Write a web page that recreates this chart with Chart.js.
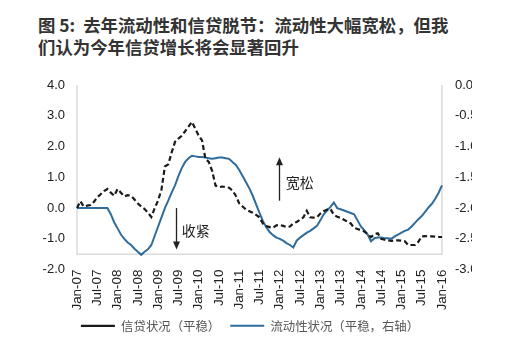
<!DOCTYPE html>
<html>
<head>
<meta charset="utf-8">
<script src="https://cdn.jsdelivr.net/npm/chart.js@4.4.1/dist/chart.umd.min.js"></script>
<style>
  body { margin: 0; background: #fff; width: 522px; height: 351px; overflow: hidden; position: relative; }
  #title {
    position: absolute; left: 38px; top: 14px;
    font: bold 17.4px/22px "Noto Sans CJK SC", sans-serif;
    color: #333; white-space: nowrap;
  }
  #clip { position: absolute; left: 0; top: 60px; width: 472px; height: 291px; overflow: hidden; }
</style>
</head>
<body>
<div id="title">图 5:&nbsp; 去年流动性和信贷脱节：流动性大幅宽松，但我<br>们认为今年信贷增长将会显著回升</div>
<div id="clip"><canvas id="chart" width="500" height="291"></canvas></div>
<script>
// monthly, Jan-07 .. Jan-16
const monthNames = ["Jan", "Feb", "Mar", "Apr", "May", "Jun", "Jul", "Aug", "Sep", "Oct", "Nov", "Dec"];
const years = ["07", "08", "09", "10", "11", "12", "13", "14", "15", "16"];
const months = [];
years.forEach((yy, i) => {
    monthNames.forEach((mn, j) => {
        if (i < years.length - 1 || j === 0) months.push(mn + "-" + yy);
    });
});

// 信贷状况（平稳） - left axis
const creditValues = [
    0.00, 0.22, 0.05, 0.08, 0.10, 0.20, 0.35, 0.45, 0.55, 0.62, 0.50, 0.40,
    0.62, 0.50, 0.38, 0.42, 0.40, 0.28, 0.15, 0.05, -0.03, -0.15, -0.29, 0.00,
    0.25, 0.60, 1.35, 1.42, 1.80, 2.15, 2.26, 2.35, 2.50, 2.65, 2.80, 2.58,
    2.35, 2.20, 1.60, 1.50, 1.20, 0.73, 0.68, 0.70, 0.68, 0.66, 0.57, 0.40,
    0.15, 0.05, -0.05, -0.10, -0.15, -0.22, -0.30, -0.50, -0.58, -0.62, -0.64, -0.56,
    -0.55, -0.58, -0.62, -0.60, -0.50, -0.45, -0.38, -0.30, -0.09, -0.30, -0.31, -0.30,
    -0.18, -0.10, -0.05, -0.03, -0.22, -0.28, -0.32, -0.38, -0.44, -0.50, -0.64, -0.68,
    -0.72, -0.76, -0.85, -0.94, -0.85, -0.82, -1.00, -1.03, -1.05, -1.07, -1.05, -1.05,
    -1.06, -1.08, -1.20, -1.20, -1.20, -1.10, -0.92, -0.91, -0.92, -0.92, -0.93, -0.94,
    -0.94
];

// 流动性状况（平稳，右轴） - right axis
const liquidityValues = [
    -2.00, -2.00, -2.00, -2.00, -2.00, -2.00, -2.00, -2.00, -2.00, -2.00, -2.10, -2.23,
    -2.33, -2.43, -2.50, -2.56, -2.60, -2.66, -2.71, -2.76, -2.71, -2.67, -2.60, -2.45,
    -2.30, -2.15, -2.00, -1.88, -1.75, -1.63, -1.48, -1.35, -1.25, -1.19, -1.15, -1.16,
    -1.17, -1.17, -1.18, -1.19, -1.20, -1.19, -1.18, -1.18, -1.19, -1.20, -1.25, -1.30,
    -1.38, -1.48, -1.58, -1.68, -1.80, -1.94, -2.08, -2.21, -2.31, -2.39, -2.44, -2.48,
    -2.50, -2.53, -2.57, -2.60, -2.64, -2.53, -2.48, -2.44, -2.40, -2.37, -2.33, -2.29,
    -2.20, -2.10, -2.04, -1.98, -1.91, -2.00, -2.02, -2.04, -2.06, -2.08, -2.10, -2.20,
    -2.30, -2.36, -2.43, -2.54, -2.49, -2.48, -2.48, -2.49, -2.49, -2.50, -2.46, -2.43,
    -2.40, -2.37, -2.35, -2.30, -2.24, -2.18, -2.13, -2.06, -1.99, -1.93, -1.85, -1.75,
    -1.63
];

const leftTicks = [-2, -1, 0, 1, 2, 3, 4];
const rightTicks = [-3, -2.5, -2, -1.5, -1, -0.5, 0];
const seriesNames = ["信贷状况（平稳）", "流动性状况（平稳，右轴）"];

const axisFont = { family: "'Liberation Sans', Arial, sans-serif", size: 13 };
const frameFloor = -1.5;   // the grey base line of the original sits here

// annotations in data units (month index, left-axis value)
const notes = [
    { text: "收紧", x: 29.3, from: 0.0, to: -1.35, tx: 31.0, ty: -0.74 },
    { text: "宽松", x: 59.7, from: 0.24, to: 1.65, tx: 61.8, ty: 0.83 }
];

const framePlugin = {
    id: "frame",
    beforeDatasetsDraw(chart) {
        const { ctx, chartArea, scales } = chart;
        const base = scales.y.getPixelForValue(frameFloor);
        ctx.save();
        ctx.strokeStyle = "#dcdcdc";
        ctx.lineWidth = 1.5;
        ctx.beginPath();
        ctx.moveTo(chartArea.left, chartArea.top);
        ctx.lineTo(chartArea.left, base);
        ctx.lineTo(chartArea.right, base);
        ctx.lineTo(chartArea.right, chartArea.top);
        ctx.stroke();
        ctx.restore();
    },
    afterDatasetsDraw(chart) {
        const { ctx, scales } = chart;
        ctx.save();
        ctx.strokeStyle = "#222";
        ctx.fillStyle = "#222";
        ctx.lineWidth = 1.3;
        notes.forEach(n => {
            const x = Math.round(scales.x.getPixelForValue(n.x)) + 0.5;
            const y0 = scales.y.getPixelForValue(n.from);
            const y1 = scales.y.getPixelForValue(n.to);
            const dir = y1 > y0 ? 1 : -1;
            ctx.beginPath();
            ctx.moveTo(x, y0);
            ctx.lineTo(x, y1 - dir * 7);
            ctx.stroke();
            ctx.beginPath();
            ctx.moveTo(x, y1);
            ctx.lineTo(x - 3.5, y1 - dir * 8);
            ctx.lineTo(x + 3.5, y1 - dir * 8);
            ctx.closePath();
            ctx.fill();
            ctx.font = "14px 'Noto Sans CJK SC', sans-serif";
            ctx.textBaseline = "middle";
            ctx.fillText(n.text, scales.x.getPixelForValue(n.tx), scales.y.getPixelForValue(n.ty));
        });
        ctx.restore();
    }
};

new Chart(document.getElementById("chart"), {
    type: "line",
    data: {
        labels: months,
        datasets: [
            {
                label: seriesNames[0],
                data: creditValues,
                yAxisID: "y",
                borderColor: "#1a1a1a",
                backgroundColor: "#1a1a1a",
                borderWidth: 2.2,
                borderDash: [5, 3],
                pointRadius: 0,
                tension: 0
            },
            {
                label: seriesNames[1],
                data: liquidityValues,
                yAxisID: "y1",
                borderColor: "#2f6c9c",
                backgroundColor: "#2f6c9c",
                borderWidth: 2,
                pointRadius: 0,
                tension: 0
            }
        ]
    },
    options: {
        responsive: false,
        animation: false,
        devicePixelRatio: 1,
        layout: { padding: { top: 25, bottom: 9, left: 0, right: 0 } },
        plugins: {
            legend: {
                position: "bottom",
                labels: {
                    usePointStyle: true,
                    pointStyle: "line",
                    pointStyleWidth: 34,
                    boxHeight: 6,
                    padding: 10,
                    color: "#555",
                    font: { family: "'Noto Sans CJK SC', sans-serif", size: 12.4 }
                }
            },
            tooltip: { enabled: false }
        },
        scales: {
            x: {
                type: "category",
                offset: false,
                grid: { display: false, drawTicks: false },
                border: { display: false },
                afterFit: (axis) => { axis.height = 40; },
                ticks: {
                    autoSkip: false,
                    minRotation: 90,
                    maxRotation: 90,
                    padding: 0,
                    color: "#222",
                    font: { family: axisFont.family, size: 13.4 },
                    callback: (v, i) => (i % 6 === 0 ? months[i] : null)
                }
            },
            y: {
                position: "left",
                min: leftTicks[0],
                max: leftTicks[leftTicks.length - 1],
                grid: { display: false, drawTicks: false },
                border: { display: false },
                afterFit: (axis) => { axis.width = 77; },
                afterBuildTicks: (axis) => { axis.ticks = leftTicks.map(v => ({ value: v })); },
                ticks: { padding: 12, color: "#222", font: axisFont, callback: v => v.toFixed(1) }
            },
            y1: {
                position: "right",
                min: rightTicks[0],
                max: rightTicks[rightTicks.length - 1],
                grid: { display: false, drawTicks: false },
                border: { display: false },
                afterFit: (axis) => { axis.width = 58; },
                afterBuildTicks: (axis) => { axis.ticks = rightTicks.map(v => ({ value: v })); },
                ticks: { padding: 13, color: "#222", font: axisFont, callback: v => v.toFixed(1) }
            }
        }
    },
    plugins: [framePlugin]
});
</script>
</body>
</html>
